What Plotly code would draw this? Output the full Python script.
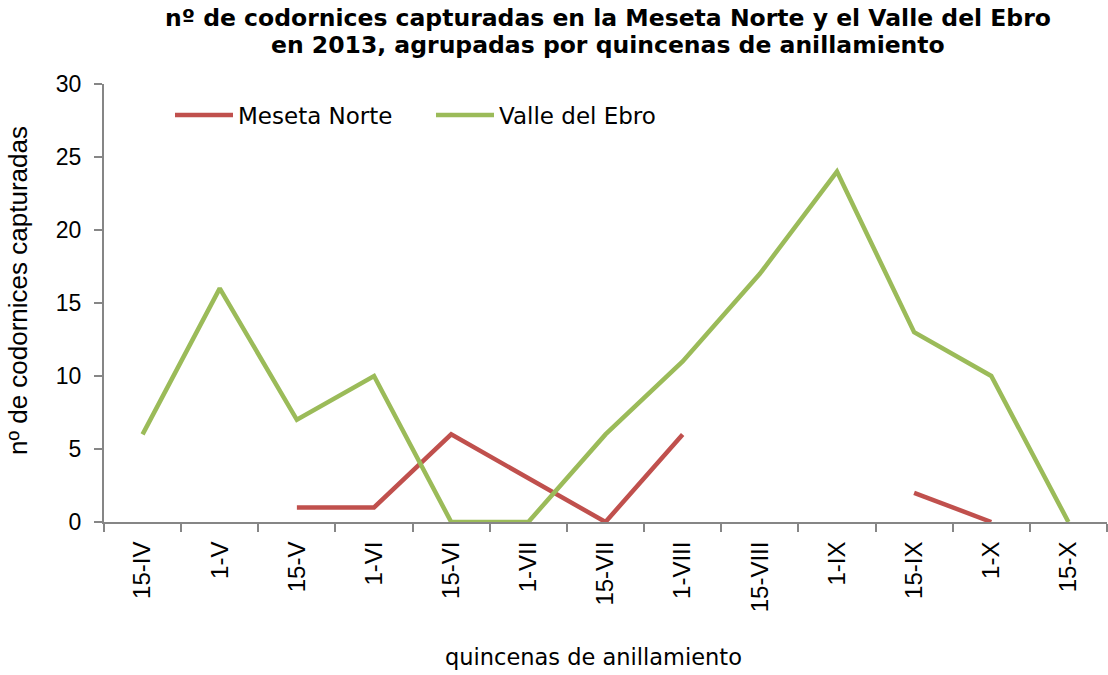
import plotly.graph_objects as go

categories = ["15-IV", "1-V", "15-V", "1-VI", "15-VI", "1-VII", "15-VII",
              "1-VIII", "15-VIII", "1-IX", "15-IX", "1-X", "15-X"]
meseta_norte = [None, None, 1, 1, 6, 3, 0, 6, None, None, 2, 0, None]
valle_ebro = [6, 16, 7, 10, 0, 0, 6, 11, 17, 24, 13, 10, 0]
y_ticks = [0, 5, 10, 15, 20, 25, 30]
title_lines = ["nº de codornices capturadas en la Meseta Norte y el Valle del Ebro",
               "en 2013, agrupadas por quincenas de anillamiento"]

FONT_T = "DejaVu Sans"
FONT_A = "Liberation Sans"
AXIS_COLOR = "#868686"

# plot area in pixels
L, R, T, B = 104, 1107, 84, 522
PW, PH = R - L, B - T


def px_x(x):
    return (x - L) / PW


def px_y(y):
    return (B - y) / PH


fig = go.Figure()
fig.add_trace(go.Scatter(x=categories, y=meseta_norte, mode="lines",
                         name="Meseta Norte", connectgaps=False,
                         line=dict(color="#C0504D", width=4.5)))
fig.add_trace(go.Scatter(x=categories, y=valle_ebro, mode="lines",
                         name="Valle del Ebro", connectgaps=False,
                         line=dict(color="#9BBB59", width=4.5)))

fig.update_layout(
    width=1108, height=675,
    margin=dict(l=L, r=1108 - R, t=T, b=675 - B, autoexpand=False),
    paper_bgcolor="white", plot_bgcolor="white",
    font=dict(family=FONT_A, size=20, color="black"),
    showlegend=True,
    legend=dict(orientation="h", x=px_x(170), y=px_y(115), xanchor="left",
                yanchor="middle", bgcolor="rgba(0,0,0,0)",
                font=dict(family=FONT_T, size=23, color="black"),
                itemwidth=58, entrywidth=188),
    xaxis=dict(type="category", range=[-0.5, 12.5], tickangle=-90,
               showline=True, linecolor=AXIS_COLOR, linewidth=2,
               ticks="outside", tickson="boundaries", ticklen=8,
               tickcolor=AXIS_COLOR, tickwidth=2, showgrid=False,
               automargin=False, ticklabelstandoff=8,
               tickfont=dict(family=FONT_A, size=24, color="black")),
    yaxis=dict(range=[0, 30], tickvals=y_ticks, showline=True,
               linecolor=AXIS_COLOR, linewidth=2, ticks="outside",
               ticklen=8, tickcolor=AXIS_COLOR, tickwidth=2,
               showgrid=False, zeroline=False, automargin=False,
               ticklabelstandoff=8,
               tickfont=dict(family=FONT_A, size=23, color="black")),
)

annotations = [
    dict(text="<b>" + title_lines[0] + "</b>", x=px_x(608), y=px_y(18),
         font=dict(family=FONT_T, size=23.5, color="black")),
    dict(text="<b>" + title_lines[1] + "</b>", x=px_x(608), y=px_y(45),
         font=dict(family=FONT_T, size=23.5, color="black")),
    dict(text="nº de codornices capturadas", x=px_x(18), y=px_y(291),
         textangle=-90, font=dict(family=FONT_A, size=26, color="black")),
    dict(text="quincenas de anillamiento", x=px_x(593), y=px_y(657),
         font=dict(family=FONT_T, size=22.5, color="black")),
]
for a in annotations:
    fig.add_annotation(xref="paper", yref="paper", showarrow=False,
                       xanchor="center", yanchor="middle", **a)

fig.write_html("out.html", config={"displayModeBar": False},
               post_script="document.body.style.margin='0';"
                           "document.body.style.overflow='hidden';")
